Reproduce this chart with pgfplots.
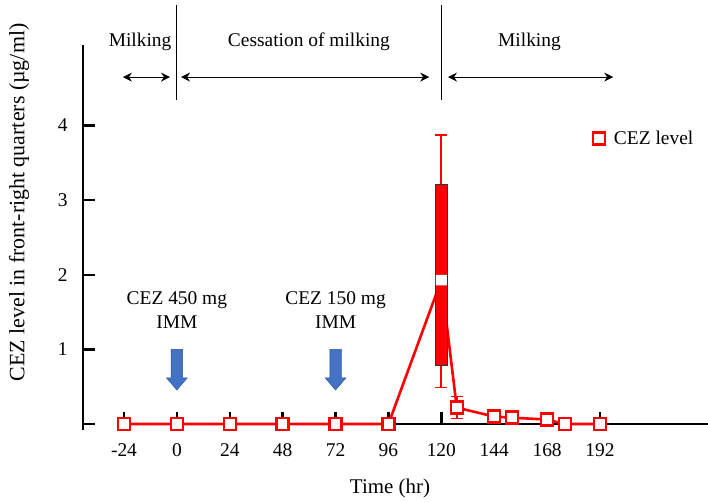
\documentclass[border=0pt]{standalone}
\usepackage{fontspec}
\setmainfont{Liberation Serif}
\usepackage{pgfplots}
\pgfplotsset{compat=1.18}
\usetikzlibrary{arrows.meta}
\definecolor{arrowblue}{HTML}{4472C4}
\definecolor{arrowedge}{HTML}{2F5597}

\begin{document}
\begin{tikzpicture}
\begin{axis}[
  at={(0,0)}, anchor=south west,
  scale only axis, width=625bp, height=385bp,
  xmin=-42.6, xmax=241, ymin=-0.08, ymax=5.08,
  axis y line=left, axis x line=middle,
  axis line style={line width=2.6bp,-},
  x axis line style={shorten <=41bp},
  xtick={-24,0,24,48,72,96,120,144,168,192},
  ytick={0,1,2,3,4}, yticklabels={,1,2,3,4},
  tick style={black,line width=2.4bp},
  major tick length=12bp,
  tick align=inside,
  /pgf/number format/assume math mode=true,
  tick label style={font=\fontsize{19.5}{23}\selectfont},
  xticklabel style={yshift=-16bp},
  yticklabel style={xshift=-12bp},
  xlabel={Time (hr)},
  xlabel style={at={(axis cs:96.7,-0.858)},anchor=center,font=\fontsize{21}{25}\selectfont},
  ylabel={CEZ level in front-right quarters (µg/ml)},
  ylabel style={at={(axis cs:-71.6,2.97)},anchor=center,font=\fontsize{22}{26}\selectfont},
  legend style={draw=none,fill=none,at={(axis cs:186,3.83)},anchor=west,
    font=\fontsize{19.5}{23}\selectfont},
  legend image code/.code={\path[draw=none,fill=none] (-9bp,-8bp) rectangle (13bp,8bp);
    \draw[#1] plot coordinates {(0bp,0bp)};},
  clip=false,
]
% connecting line
\addplot[red,line width=2.6bp,no marks,forget plot] coordinates {
  (-24,0)(0,0)(24,0)(48,0)(72,0)(96,0)(120,1.93)(127,0.22)(144,0.10)(152,0.085)(168,0.06)(176,0)(192,0)
};
% whisker at 120
\addplot[draw=red,line width=1.8bp,mark=-,mark size=6bp,
  mark options={draw=red,line width=1.8bp},forget plot]
  coordinates {(120,0.49)(120,3.87)};
% box at 120
\addplot[fill=red,draw=black!80,line width=0.8bp,forget plot] coordinates {
  (117.3,0.78)(122.7,0.78)(122.7,3.21)(117.3,3.21)(117.3,0.78)
};
\addplot[fill=white,draw=none,forget plot] coordinates {
  (117.5,1.86)(122.5,1.86)(122.5,2.00)(117.5,2.00)(117.5,1.86)
};
% whisker at 127
\addplot[draw=red,line width=1.8bp,mark=-,mark size=6bp,
  mark options={draw=red,line width=1.8bp},forget plot]
  coordinates {(127,0.075)(127,0.37)};
% markers
\addplot[only marks,mark=square*,mark size=6bp,
  mark options={draw=red,fill=white,line width=2.5bp}]
  coordinates {
  (-24,0)(0,0)(24,0)(48,0)(72,0)(96,0)
  (127,0.22)(144,0.10)(152,0.085)(168,0.06)(176,0)(192,0)
};
\legend{CEZ level}

% dosing arrows
\filldraw[fill=arrowblue,draw=arrowedge,line width=0.5bp]
  ([xshift=-5.8bp]axis cs:0,1.0) -- ([xshift=5.8bp]axis cs:0,1.0) --
  ([xshift=5.8bp]axis cs:0,0.617) -- ([xshift=10.3bp]axis cs:0,0.617) --
  (axis cs:0,0.456) -- ([xshift=-10.3bp]axis cs:0,0.617) --
  ([xshift=-5.8bp]axis cs:0,0.617) -- cycle;
\filldraw[fill=arrowblue,draw=arrowedge,line width=0.5bp]
  ([xshift=-5.8bp]axis cs:72,1.0) -- ([xshift=5.8bp]axis cs:72,1.0) --
  ([xshift=5.8bp]axis cs:72,0.617) -- ([xshift=10.3bp]axis cs:72,0.617) --
  (axis cs:72,0.456) -- ([xshift=-10.3bp]axis cs:72,0.617) --
  ([xshift=-5.8bp]axis cs:72,0.617) -- cycle;
\node[align=center,font=\fontsize{19.5}{24}\selectfont] at (axis cs:0,1.53) {CEZ 450 mg\\IMM};
\node[align=center,font=\fontsize{19.5}{24}\selectfont] at (axis cs:72,1.53) {CEZ 150 mg\\IMM};

% phase annotations
\draw[line width=1bp] (axis cs:0,5.62) -- (axis cs:0,4.34);
\draw[line width=1bp] (axis cs:120,5.62) -- (axis cs:120,4.34);
\begin{scope}[font=\fontsize{19.5}{23}\selectfont]
\node at (axis cs:-16.7,5.12) {Milking};
\node at (axis cs:59.9,5.12) {Cessation of milking};
\node at (axis cs:160,5.12) {Milking};
\end{scope}
\draw[{Stealth[length=9bp,width=9bp]}-{Stealth[length=9bp,width=9bp]},line width=1bp]
  (axis cs:-24.5,4.65) -- (axis cs:-3.1,4.65);
\draw[{Stealth[length=9bp,width=9bp]}-{Stealth[length=9bp,width=9bp]},line width=1bp]
  (axis cs:1.9,4.65) -- (axis cs:114.5,4.65);
\draw[{Stealth[length=9bp,width=9bp]}-{Stealth[length=9bp,width=9bp]},line width=1bp]
  (axis cs:123,4.65) -- (axis cs:198,4.65);
\end{axis}
\pgfresetboundingbox
\path (-83bp,-72bp) rectangle (625bp,430bp);
\end{tikzpicture}
\end{document}
